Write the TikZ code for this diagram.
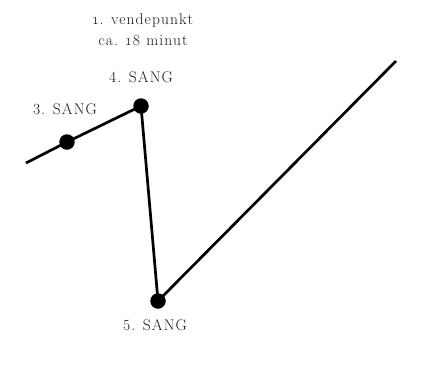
\documentclass[tikz,border=0pt]{standalone}
\usepackage{fontspec}
\usetikzlibrary{positioning}
\newfontfamily\lblfont[LetterSpace=7]{Latin Modern Roman}
\newfontfamily\turnfont[LetterSpace=7,Numbers=OldStyle]{Latin Modern Roman}
\tikzset{
  curve/.style={line width=2.7pt,draw=black},
  song/.style={circle,fill=black,inner sep=0pt,minimum size=15.5pt},
  lbl/.style={font=\lblfont\fontsize{15.5}{21}\selectfont,align=center,text=black!90},
  turnlbl/.style={lbl,font=\turnfont\fontsize{15.5}{21}\selectfont},
}
\begin{document}
\begin{tikzpicture}[x=1pt,y=-1pt]
  \useasboundingbox (0,0) rectangle (428,368);
  % the arc of the story
  \coordinate (start) at (26,163);
  \node[song] (s3) at (67,142) {};
  \node[song] (s4) at (141,106) {};
  \node[song] (s5) at (158,301) {};
  \coordinate (end) at (396,61);
  \draw[curve] (start) -- (s3.center) -- (s4.center) -- (s5.center) -- (end);
  % labels
  \node[turnlbl] (turn) at (143,30) {1. vendepunkt\\ca. 18 minut};
  \node[lbl] (l4) at (141,77) {4. SANG};
  \node[lbl] (l3) at (65,109) {3. SANG};
  \node[lbl] (l5) at (155,325) {5. SANG};
\end{tikzpicture}
\end{document}
